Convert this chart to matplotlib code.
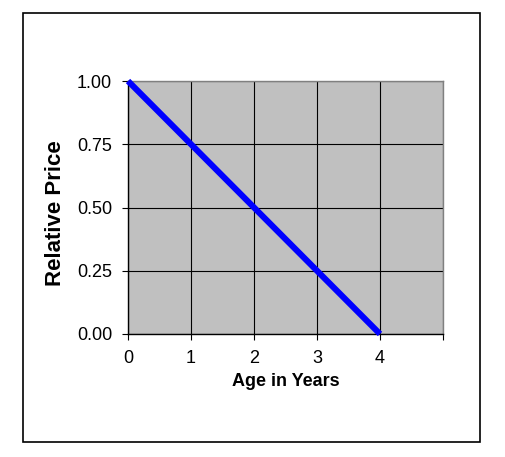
import matplotlib
matplotlib.use("Agg")
import matplotlib.pyplot as plt
from matplotlib.patches import Rectangle

plt.rcParams['font.family'] = ['Liberation Sans', 'DejaVu Sans']

# data
age_years = [0, 4]
relative_price = [1.0, 0.0]
x_ticks = [0, 1, 2, 3, 4, 5]
x_labels = ['0', '1', '2', '3', '4', '']
y_ticks = [0.0, 0.25, 0.5, 0.75, 1.0]
y_labels = ['0.00', '0.25', '0.50', '0.75', '1.00']

fig = plt.figure(figsize=(5.06, 4.57), dpi=100)
fig.patch.set_facecolor('white')

# outer chart frame
fig.patches.append(Rectangle((23 / 506, 1 - 442 / 457), 457 / 506, 429 / 457,
                             transform=fig.transFigure, fill=False,
                             edgecolor='black', linewidth=1.2))

ax = fig.add_axes([128 / 506, 1 - 334 / 457, 315 / 506, 253 / 457])
ax.set_facecolor('#C0C0C0')

ax.plot(age_years, relative_price, color='#0000FF', linewidth=4.4,
        solid_capstyle='butt', zorder=3, clip_on=False)

ax.set_xlim(0, 5)
ax.set_ylim(0, 1)
ax.set_xticks(x_ticks)
ax.set_xticklabels(x_labels)
ax.set_yticks(y_ticks)
ax.set_yticklabels(y_labels)
ax.grid(True, color='black', linewidth=0.8)
ax.set_axisbelow(True)

ax.tick_params(direction='out', length=4.5, width=0.8, labelsize=13)
ax.tick_params(axis='x', pad=7)
ax.tick_params(axis='y', pad=7)
for side in ['left', 'bottom']:
    ax.spines[side].set_color('black')
    ax.spines[side].set_linewidth(1.0)
for side in ['top', 'right']:
    ax.spines[side].set_color('#808080')
    ax.spines[side].set_linewidth(1.0)

ax.set_xlabel('Age in Years', fontsize=13, fontweight='bold')
ax.set_ylabel('Relative Price', fontsize=16, fontweight='bold')
ax.xaxis.set_label_coords(0.5, -(381 - 334) / 253, transform=ax.transAxes)
ax.yaxis.set_label_coords(-(128 - 56) / 315, 0.5 - 6 / 253, transform=ax.transAxes)
ax.xaxis.label.set_va('center')
ax.yaxis.label.set_va('center')

fig.savefig('out.png', dpi=100)
